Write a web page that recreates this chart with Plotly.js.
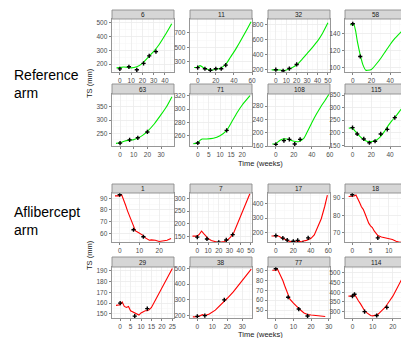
<!DOCTYPE html>
<html><head><meta charset="utf-8">
<script src="https://cdn.plot.ly/plotly-3.0.1.min.js"></script>
<style>html,body{margin:0;padding:0;overflow:hidden;background:#fff;width:401px;height:338px}#chart{width:410px;height:338px}</style>
</head><body><div id="chart"></div><script>
// ---- Data (time in weeks, TS in mm) ----
const panelIds = ['6','11','32','58','63','71','108','115','1','7','17','18','29','38','77','114'];
const groupLabels = ['Reference<br>arm', 'Aflibercept<br>arm'];

const p6_obsT = [0, 8, 15, 21, 26, 32];
const p6_obsY = [165, 180, 158, 205, 260, 291];
const p6_fitT = [-3, 0, 3, 6, 10, 15, 20, 25, 30, 35, 40, 46];
const p6_fitY = [172, 174, 178, 177, 172, 180, 205, 248, 292, 345, 410, 495];

const p11_obsT = [0, 8, 14, 20, 26, 31];
const p11_obsY = [220, 205, 185, 205, 205, 255];
const p11_fitT = [-4, 0, 2.5, 6, 10, 14, 19, 25, 29, 32, 36, 41.5, 46, 51, 55, 59];
const p11_fitY = [221, 225, 248, 222, 200, 182, 195, 213, 245, 282, 360, 465, 560, 670, 760, 852];

const p32_obsT = [0, 7, 13, 20];
const p32_obsY = [195, 180, 210, 265];
const p32_fitT = [-4, 0, 4, 8, 12, 16, 20, 25, 30, 35, 40, 45, 50];
const p32_fitY = [192, 193, 190, 183, 200, 225, 258, 330, 410, 490, 575, 685, 820];

const p58_obsT = [0, 8];
const p58_obsY = [151, 113];
const p58_fitT = [-3, 0, 1, 3, 5, 8, 11, 14, 16, 20, 25, 30, 35, 40, 45, 52];
const p58_fitY = [150, 150, 151, 143, 130, 115, 103, 97, 97, 98, 104, 111, 119, 127, 134, 142];

const p63_obsT = [0, 7, 13, 20];
const p63_obsY = [213, 225, 233, 255];
const p63_fitT = [-3, 0, 3, 7, 10, 13, 17, 20, 25, 30, 34, 38];
const p63_fitY = [212, 214, 220, 224, 226, 232, 244, 257, 285, 320, 350, 388];

const p71_obsT = [0, 13];
const p71_obsY = [249, 268];
const p71_fitT = [-2, 0, 1, 2, 4, 7, 10, 13, 15, 17.6, 20, 23.5];
const p71_fitY = [248, 249, 253, 255, 255, 256, 260, 268, 279, 294, 306, 320];

const p108_obsT = [0, 9, 15, 21, 27];
const p108_obsY = [165, 176, 180, 166, 180];
const p108_fitT = [-4, 0, 4, 8, 12, 16, 20, 25, 31, 35, 40, 45, 50, 55, 59];
const p108_fitY = [166, 167, 176, 181, 181, 178, 174, 173, 183, 203, 230, 255, 278, 298, 315];

const p115_obsT = [0, 5, 12, 18, 24, 30, 37, 45];
const p115_obsY = [220, 195, 175, 160, 166, 195, 213, 260];
const p115_fitT = [-4, 0, 3, 6, 10, 14, 18, 22, 26, 30, 34, 38, 42, 46, 50, 55];
const p115_fitY = [218, 218, 205, 192, 178, 168, 164, 166, 172, 185, 205, 228, 248, 265, 285, 310];

const p1_obsT = [0, 7, 12];
const p1_obsY = [93, 63, 57];
const p1_fitT = [-2.4, 0, 1, 2, 3, 4, 5, 6, 7, 8, 9, 10, 11, 12, 13, 14, 15, 16, 18, 20, 22, 24, 26];
const p1_fitY = [92, 92, 93, 89, 84, 79, 74.5, 70, 66, 62, 61, 60, 59, 58, 56, 55, 54, 54.3, 54, 53, 53.2, 54, 55.5];

const p7_obsT = [0, 9, 20, 27, 33];
const p7_obsY = [148, 141, 128, 137, 158];
const p7_fitT = [-4.5, 0, 2, 4, 6, 8, 10, 13, 16, 19, 22, 25, 28, 31, 34, 37, 40, 43, 46, 49];
const p7_fitY = [152, 152, 160, 172, 162, 150, 143, 135, 130, 128, 129, 131, 136, 148, 165, 195, 228, 260, 290, 318];

const p17_obsT = [0, 8, 13, 20, 25, 31, 37];
const p17_obsY = [180, 163, 150, 142, 148, 128, 165];
const p17_fitT = [-5, 0, 3, 6, 10, 15, 20, 25, 30, 35, 40, 44, 48, 52, 56, 59];
const p17_fitY = [178, 180, 178, 168, 155, 143, 137, 138, 142, 148, 160, 185, 240, 295, 380, 455];

const p18_obsT = [0, 7];
const p18_obsY = [92, 67];
const p18_fitT = [-1, 0, 0.5, 1, 1.5, 2, 2.5, 3, 3.5, 4, 4.5, 5, 5.5, 6, 6.5, 7, 8, 9, 10, 11, 12, 13, 14.5];
const p18_fitY = [91, 91, 91.3, 91.8, 90, 87.5, 85, 83.5, 81, 78, 75.5, 74, 73, 71, 69.5, 68.3, 67.5, 67, 66.8, 66, 65, 64.5, 64.3];

const p29_obsT = [0, 7, 13];
const p29_obsY = [160, 148, 155];
const p29_fitT = [-2, 0, 1, 2, 3, 4, 5, 6, 7, 8, 9, 10, 11, 12, 13, 14, 15, 17, 20, 23, 25];
const p29_fitY = [158, 158.5, 161, 157, 156, 157, 153, 152, 151, 150, 149, 151, 152, 153, 153, 154, 156, 163, 174, 185, 192];

const p38_obsT = [0, 5, 18];
const p38_obsY = [195, 200, 300];
const p38_fitT = [-3, 0, 2, 3.5, 5, 8, 12, 16, 20, 24, 28, 32, 36];
const p38_fitY = [192, 193, 200, 206, 200, 210, 235, 270, 310, 350, 400, 445, 495];

const p77_obsT = [0, 7, 13, 18];
const p77_obsY = [92, 63, 51, 44];
const p77_fitT = [-2, 0, 1, 2, 3, 4, 5, 6, 7, 8, 10, 12, 14, 16, 18, 20, 24, 28];
const p77_fitY = [90.5, 90.5, 91.5, 88, 84, 80, 75, 70, 65, 61, 57, 53, 50, 47, 45.5, 45, 44, 43.5];

const p114_obsT = [0, 1, 6, 12, 17];
const p114_obsY = [380, 390, 300, 280, 322];
const p114_fitT = [-2, 0, 1, 2, 3, 4, 5, 6, 7, 8, 9, 10, 11, 12, 13, 14, 16, 18, 20, 22, 24, 26];
const p114_fitY = [380, 380, 390, 370, 355, 340, 320, 305, 295, 285, 280, 278, 280, 282, 290, 300, 320, 350, 380, 420, 460, 500];

const obsT = [p6_obsT,p11_obsT,p32_obsT,p58_obsT,p63_obsT,p71_obsT,p108_obsT,p115_obsT,p1_obsT,p7_obsT,p17_obsT,p18_obsT,p29_obsT,p38_obsT,p77_obsT,p114_obsT];
const obsY = [p6_obsY,p11_obsY,p32_obsY,p58_obsY,p63_obsY,p71_obsY,p108_obsY,p115_obsY,p1_obsY,p7_obsY,p17_obsY,p18_obsY,p29_obsY,p38_obsY,p77_obsY,p114_obsY];
const fitT = [p6_fitT,p11_fitT,p32_fitT,p58_fitT,p63_fitT,p71_fitT,p108_fitT,p115_fitT,p1_fitT,p7_fitT,p17_fitT,p18_fitT,p29_fitT,p38_fitT,p77_fitT,p114_fitT];
const fitY = [p6_fitY,p11_fitY,p32_fitY,p58_fitY,p63_fitY,p71_fitY,p108_fitY,p115_fitY,p1_fitY,p7_fitY,p17_fitY,p18_fitY,p29_fitY,p38_fitY,p77_fitY,p114_fitY];

// ---- Axis settings per panel ----
const xRanges = [[-7,48],[-8.5,60],[-7.5,52],[-8.3,58],[-5.9,39.5],[-3.5,24.4],[-8.7,60.2],[-8,58],
                 [-3.9,27.5],[-6.8,51],[-9,62],[-2,15],[-3.9,25.8],[-4.9,36.5],[-4.4,30.7],[-3.7,27]];
const xDticks = [10,20,10,20,10,5,20,20, 10,10,20,5,5,10,10,10];
const yRanges = [[142,529],[160,890],[164,871],[95,156.6],[202,398],[244.5,322.5],[160,316],[147,354],
                 [52.5,94.5],[129,321],[137,470],[64.6,93],[146.3,193.4],[185,508],[41.9,93.8],[267,531]];
const yDticks = [100,200,200,20,50,20,40,50, 10,50,100,10,10,100,10,50];
const yTick0  = [0,100,0,0,0,0,0,0, 0,0,0,0,0,0,0,0];

// ---- Geometry (pixels) ----
const W = 410, H = 338;
const colLeft = [112, 190, 268, 345], panelW = 62;
const plotTB = [[19,72],[94,146],[193,242],[267,318]];
const stripTB = [[10,19],[84,94],[184,193],[257,267]];

const traces = [], layout = {
  width: W, height: H, margin: {l:0,r:0,t:0,b:0}, showlegend: false,
  paper_bgcolor: '#ffffff', plot_bgcolor: '#ffffff',
  font: {family: 'Liberation Sans, Arial, sans-serif', color: '#4d4d4d', size: 7},
  shapes: [], annotations: []
};

for (let i = 0; i < panelIds.length; i++) {
  const row = Math.floor(i / 4), col = i % 4, n = i + 1;
  const xa = 'x' + (n === 1 ? '' : n), ya = 'y' + (n === 1 ? '' : n);
  const color = row < 2 ? 'rgb(0,235,0)' : 'rgb(255,0,0)';
  traces.push({x: fitT[i], y: fitY[i], xaxis: xa, yaxis: ya, mode: 'lines',
    line: {color: color, width: 1.1, shape: row < 2 ? 'spline' : 'linear', smoothing: 0.6}, hoverinfo: 'skip'});
  traces.push({x: obsT[i], y: obsY[i], xaxis: xa, yaxis: ya, mode: 'markers',
    marker: {symbol: 'cross', size: 3.5, color: '#000000'}, hoverinfo: 'skip'});
  const common = {showgrid: true, gridcolor: '#ebebeb', gridwidth: 0.8, zeroline: false,
    showline: true, mirror: true, linecolor: '#8c8c8c', linewidth: 0.9,
    ticks: 'outside', ticklen: 2.5, tickwidth: 0.7, tickcolor: '#4d4d4d',
    tickfont: {size: 6.5, color: '#4d4d4d'}, fixedrange: true};
  layout['xaxis' + (n === 1 ? '' : n)] = Object.assign({}, common, {
    domain: [colLeft[col] / W, (colLeft[col] + panelW) / W], anchor: ya,
    range: xRanges[i], dtick: xDticks[i], tick0: 0,
    minor: {dtick: xDticks[i] / 2, tick0: 0, showgrid: true, gridcolor: '#f5f5f5', gridwidth: 0.5}
  });
  layout['yaxis' + (n === 1 ? '' : n)] = Object.assign({}, common, {
    domain: [1 - plotTB[row][1] / H, 1 - plotTB[row][0] / H], anchor: xa,
    range: yRanges[i], dtick: yDticks[i], tick0: yTick0[i],
    minor: {dtick: yDticks[i] / 2, tick0: yTick0[i], showgrid: true, gridcolor: '#f5f5f5', gridwidth: 0.5}
  });
  layout.shapes.push({type: 'rect', xref: 'paper', yref: 'paper',
    x0: colLeft[col] / W, x1: (colLeft[col] + panelW) / W,
    y0: 1 - stripTB[row][1] / H, y1: 1 - stripTB[row][0] / H,
    fillcolor: '#d6d6d6', line: {color: '#8c8c8c', width: 0.9}, layer: 'above'});
  layout.annotations.push({xref: 'paper', yref: 'paper',
    x: (colLeft[col] + panelW / 2) / W, y: 1 - (stripTB[row][0] + stripTB[row][1]) / 2 / H,
    text: panelIds[i], showarrow: false, font: {size: 6.5, color: '#1a1a1a'},
    xanchor: 'center', yanchor: 'middle'});
}

// Group labels and axis titles
const groupCenters = [84, 221];
const tsCenters = [83, 255];
const timeY = [163, 334];
for (let g = 0; g < 2; g++) {
  layout.annotations.push({xref: 'paper', yref: 'paper', x: 12 / W, y: 1 - groupCenters[g] / H,
    text: groupLabels[g], showarrow: false, align: 'left', xanchor: 'left', yanchor: 'middle',
    font: {size: 14, color: '#000000', family: 'Liberation Sans, Arial, sans-serif'}});
  layout.annotations.push({xref: 'paper', yref: 'paper', x: 89 / W, y: 1 - tsCenters[g] / H,
    text: 'TS (mm)', showarrow: false, textangle: -90, xanchor: 'center', yanchor: 'middle',
    font: {size: 7.5, color: '#1a1a1a'}});
  layout.annotations.push({xref: 'paper', yref: 'paper', x: 260 / W, y: 1 - timeY[g] / H,
    text: 'Time (weeks)', showarrow: false, xanchor: 'center', yanchor: 'middle',
    font: {size: 7.5, color: '#1a1a1a'}});
}

Plotly.newPlot('chart', traces, layout, {staticPlot: true, displayModeBar: false});
</script></body></html>
